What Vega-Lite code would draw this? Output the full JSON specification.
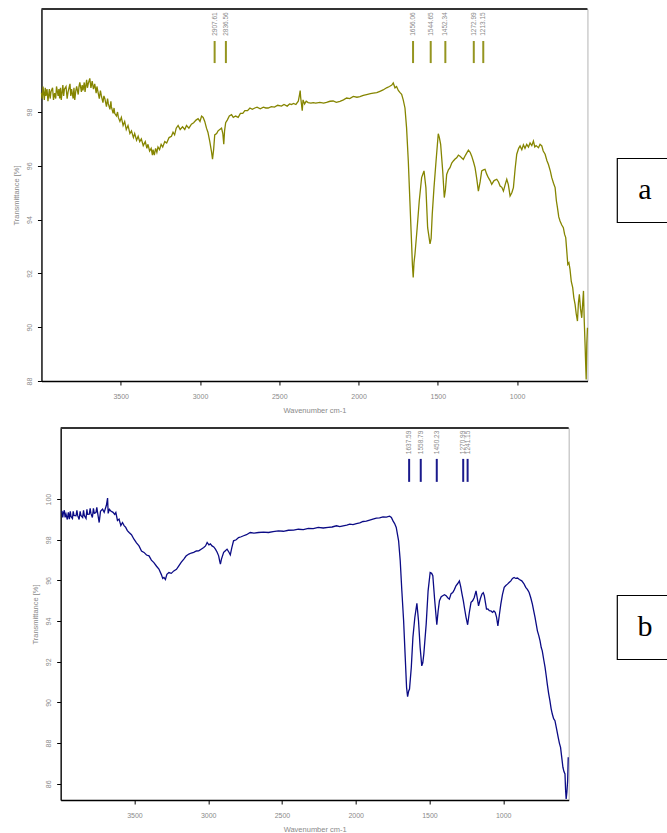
{
  "$schema": "https://vega.github.io/schema/vega-lite/v6.json",
  "background": "white",
  "padding": {"left": 11, "top": 7, "right": 0, "bottom": 0},
  "config": {
    "font": "Liberation Sans",
    "axis": {
      "grid": false,
      "domainColor": "#000000",
      "domainWidth": 1.3,
      "tickColor": "#000000",
      "tickSize": 4,
      "labelFontSize": 7,
      "labelColor": "#8a8a8a",
      "titleFontSize": 7.5,
      "titleFontWeight": "normal",
      "titleColor": "#8a8a8a"
    }
  },
  "datasets": {
    "specA": [
      {"w": 4000, "t": 98.72}, {"w": 3995, "t": 98.5}, {"w": 3990, "t": 98.95}, {"w": 3982, "t": 98.45}, {"w": 3976, "t": 98.9}, {"w": 3972, "t": 98.6}, {"w": 3965, "t": 98.85}, {"w": 3959, "t": 98.4},
      {"w": 3950, "t": 98.85}, {"w": 3945, "t": 98.5}, {"w": 3940, "t": 98.75}, {"w": 3930, "t": 98.9}, {"w": 3924, "t": 98.45}, {"w": 3917, "t": 98.7}, {"w": 3910, "t": 98.5}, {"w": 3905, "t": 98.95},
      {"w": 3895, "t": 98.6}, {"w": 3890, "t": 98.85}, {"w": 3885, "t": 98.5}, {"w": 3880, "t": 98.9}, {"w": 3875, "t": 98.45}, {"w": 3865, "t": 99.0}, {"w": 3860, "t": 98.6}, {"w": 3855, "t": 98.85},
      {"w": 3845, "t": 98.95}, {"w": 3838, "t": 98.5}, {"w": 3832, "t": 98.75}, {"w": 3820, "t": 99.05}, {"w": 3815, "t": 98.6}, {"w": 3810, "t": 98.85}, {"w": 3800, "t": 98.5}, {"w": 3795, "t": 98.9},
      {"w": 3790, "t": 98.45}, {"w": 3783, "t": 98.8}, {"w": 3778, "t": 98.95}, {"w": 3768, "t": 98.65}, {"w": 3763, "t": 98.95}, {"w": 3758, "t": 99.1}, {"w": 3748, "t": 98.75},
      {"w": 3743, "t": 99.0}, {"w": 3738, "t": 98.8}, {"w": 3730, "t": 99.1}, {"w": 3725, "t": 98.75}, {"w": 3715, "t": 99.2}, {"w": 3710, "t": 98.9}, {"w": 3705, "t": 99.05}, {"w": 3695, "t": 99.25},
      {"w": 3688, "t": 98.9}, {"w": 3680, "t": 99.15}, {"w": 3672, "t": 98.85}, {"w": 3664, "t": 99.05}, {"w": 3655, "t": 98.7}, {"w": 3650, "t": 98.95},
      {"w": 3645, "t": 98.8}, {"w": 3635, "t": 98.5}, {"w": 3628, "t": 98.8}, {"w": 3622, "t": 98.6}, {"w": 3612, "t": 98.35}, {"w": 3606, "t": 98.6}, {"w": 3600, "t": 98.5},
      {"w": 3590, "t": 98.2}, {"w": 3583, "t": 98.5}, {"w": 3578, "t": 98.3}, {"w": 3568, "t": 98.1}, {"w": 3562, "t": 98.4}, {"w": 3559, "t": 98.2}, {"w": 3548, "t": 97.95},
      {"w": 3542, "t": 98.15}, {"w": 3538, "t": 97.95}, {"w": 3527, "t": 97.85}, {"w": 3520, "t": 98.0}, {"w": 3515, "t": 97.8}, {"w": 3505, "t": 97.65}, {"w": 3496, "t": 97.8},
      {"w": 3485, "t": 97.5}, {"w": 3475, "t": 97.65}, {"w": 3465, "t": 97.35}, {"w": 3454, "t": 97.5}, {"w": 3442, "t": 97.2},
      {"w": 3432, "t": 97.3}, {"w": 3420, "t": 97.05}, {"w": 3412, "t": 97.2}, {"w": 3400, "t": 96.95}, {"w": 3390, "t": 97.1},
      {"w": 3380, "t": 96.9}, {"w": 3370, "t": 97.0}, {"w": 3358, "t": 96.75}, {"w": 3345, "t": 96.9}, {"w": 3335, "t": 96.65},
      {"w": 3328, "t": 96.8}, {"w": 3318, "t": 96.55}, {"w": 3308, "t": 96.65}, {"w": 3300, "t": 96.4}, {"w": 3296, "t": 96.6},
      {"w": 3288, "t": 96.4}, {"w": 3280, "t": 96.65}, {"w": 3272, "t": 96.5}, {"w": 3265, "t": 96.7}, {"w": 3255, "t": 96.6},
      {"w": 3245, "t": 96.8}, {"w": 3235, "t": 96.7}, {"w": 3222, "t": 96.9}, {"w": 3210, "t": 96.85}, {"w": 3195, "t": 97.05},
      {"w": 3180, "t": 97.1}, {"w": 3170, "t": 97.25}, {"w": 3160, "t": 97.15}, {"w": 3150, "t": 97.4}, {"w": 3138, "t": 97.5},
      {"w": 3125, "t": 97.35}, {"w": 3110, "t": 97.45}, {"w": 3096, "t": 97.35}, {"w": 3085, "t": 97.5}, {"w": 3070, "t": 97.4},
      {"w": 3054, "t": 97.55}, {"w": 3040, "t": 97.6}, {"w": 3025, "t": 97.7}, {"w": 3012, "t": 97.75}, {"w": 3000, "t": 97.65},
      {"w": 2990, "t": 97.85}, {"w": 2980, "t": 97.8}, {"w": 2970, "t": 97.65}, {"w": 2959, "t": 97.4}, {"w": 2950, "t": 97.25},
      {"w": 2938, "t": 96.9}, {"w": 2928, "t": 96.55}, {"w": 2921, "t": 96.25}, {"w": 2914, "t": 96.6}, {"w": 2907, "t": 97.15},
      {"w": 2895, "t": 97.2}, {"w": 2886, "t": 97.3}, {"w": 2875, "t": 97.35}, {"w": 2864, "t": 97.4}, {"w": 2856, "t": 97.2},
      {"w": 2850, "t": 96.8}, {"w": 2845, "t": 97.3}, {"w": 2838, "t": 97.6}, {"w": 2828, "t": 97.7}, {"w": 2815, "t": 97.85},
      {"w": 2801, "t": 97.9}, {"w": 2790, "t": 97.8}, {"w": 2775, "t": 97.85}, {"w": 2759, "t": 97.8}, {"w": 2745, "t": 97.95},
      {"w": 2730, "t": 97.95}, {"w": 2717, "t": 98.05}, {"w": 2700, "t": 98.05}, {"w": 2685, "t": 98.15}, {"w": 2670, "t": 98.1},
      {"w": 2654, "t": 98.15}, {"w": 2640, "t": 98.18}, {"w": 2620, "t": 98.12}, {"w": 2600, "t": 98.18}, {"w": 2585, "t": 98.15},
      {"w": 2570, "t": 98.15}, {"w": 2550, "t": 98.2}, {"w": 2530, "t": 98.18}, {"w": 2510, "t": 98.25}, {"w": 2486, "t": 98.22},
      {"w": 2470, "t": 98.28}, {"w": 2450, "t": 98.22}, {"w": 2435, "t": 98.3}, {"w": 2423, "t": 98.28}, {"w": 2410, "t": 98.32},
      {"w": 2395, "t": 98.28}, {"w": 2380, "t": 98.4}, {"w": 2372, "t": 98.65}, {"w": 2368, "t": 98.8}, {"w": 2365, "t": 98.55},
      {"w": 2360, "t": 98.3}, {"w": 2355, "t": 98.05}, {"w": 2350, "t": 98.45}, {"w": 2340, "t": 98.3}, {"w": 2330, "t": 98.4},
      {"w": 2318, "t": 98.35}, {"w": 2300, "t": 98.33}, {"w": 2286, "t": 98.35}, {"w": 2270, "t": 98.33}, {"w": 2244, "t": 98.36},
      {"w": 2220, "t": 98.33}, {"w": 2202, "t": 98.36}, {"w": 2180, "t": 98.4}, {"w": 2160, "t": 98.41}, {"w": 2140, "t": 98.36},
      {"w": 2117, "t": 98.4}, {"w": 2095, "t": 98.45}, {"w": 2075, "t": 98.52}, {"w": 2055, "t": 98.5}, {"w": 2033, "t": 98.58},
      {"w": 2010, "t": 98.55}, {"w": 1991, "t": 98.57}, {"w": 1970, "t": 98.62}, {"w": 1949, "t": 98.65}, {"w": 1925, "t": 98.68},
      {"w": 1907, "t": 98.7}, {"w": 1885, "t": 98.72}, {"w": 1865, "t": 98.77}, {"w": 1845, "t": 98.82}, {"w": 1823, "t": 98.9},
      {"w": 1805, "t": 98.95}, {"w": 1790, "t": 99.0}, {"w": 1781, "t": 99.08}, {"w": 1770, "t": 98.9}, {"w": 1760, "t": 98.95},
      {"w": 1749, "t": 98.8}, {"w": 1738, "t": 98.72}, {"w": 1728, "t": 98.66}, {"w": 1718, "t": 98.45}, {"w": 1707, "t": 98.15},
      {"w": 1697, "t": 97.42}, {"w": 1686, "t": 96.18}, {"w": 1676, "t": 94.69}, {"w": 1665, "t": 93.08}, {"w": 1660, "t": 92.3},
      {"w": 1655, "t": 91.85}, {"w": 1650, "t": 92.4}, {"w": 1644, "t": 92.71}, {"w": 1630, "t": 93.7}, {"w": 1617, "t": 94.69},
      {"w": 1602, "t": 95.56}, {"w": 1587, "t": 95.81}, {"w": 1575, "t": 95.19}, {"w": 1564, "t": 93.7}, {"w": 1549, "t": 93.1},
      {"w": 1542, "t": 93.3}, {"w": 1535, "t": 94.2}, {"w": 1524, "t": 95.19}, {"w": 1511, "t": 96.18}, {"w": 1497, "t": 97.19},
      {"w": 1490, "t": 97.05}, {"w": 1482, "t": 96.8}, {"w": 1469, "t": 95.81}, {"w": 1459, "t": 94.82}, {"w": 1452, "t": 95.1},
      {"w": 1444, "t": 95.68}, {"w": 1433, "t": 95.85}, {"w": 1423, "t": 95.93}, {"w": 1412, "t": 96.1}, {"w": 1402, "t": 96.18},
      {"w": 1391, "t": 96.25}, {"w": 1381, "t": 96.3}, {"w": 1370, "t": 96.4}, {"w": 1360, "t": 96.36}, {"w": 1350, "t": 96.3},
      {"w": 1339, "t": 96.24}, {"w": 1325, "t": 96.4}, {"w": 1307, "t": 96.58}, {"w": 1296, "t": 96.5}, {"w": 1286, "t": 96.36},
      {"w": 1275, "t": 96.15}, {"w": 1265, "t": 95.93}, {"w": 1255, "t": 95.55}, {"w": 1244, "t": 95.06}, {"w": 1233, "t": 95.4},
      {"w": 1223, "t": 95.81}, {"w": 1212, "t": 95.85}, {"w": 1202, "t": 95.87}, {"w": 1192, "t": 95.7}, {"w": 1181, "t": 95.56},
      {"w": 1170, "t": 95.45}, {"w": 1160, "t": 95.31}, {"w": 1145, "t": 95.45}, {"w": 1128, "t": 95.5}, {"w": 1117, "t": 95.4},
      {"w": 1107, "t": 95.25}, {"w": 1096, "t": 95.2}, {"w": 1086, "t": 95.06}, {"w": 1075, "t": 95.3}, {"w": 1065, "t": 95.5},
      {"w": 1055, "t": 95.3}, {"w": 1044, "t": 94.88}, {"w": 1033, "t": 95.0}, {"w": 1023, "t": 95.19}, {"w": 1012, "t": 95.9},
      {"w": 1002, "t": 96.43}, {"w": 990, "t": 96.65}, {"w": 981, "t": 96.74}, {"w": 970, "t": 96.6}, {"w": 960, "t": 96.78}, {"w": 950, "t": 96.65}, {"w": 939, "t": 96.8},
      {"w": 928, "t": 96.7}, {"w": 918, "t": 96.85}, {"w": 907, "t": 96.75}, {"w": 897, "t": 96.92}, {"w": 888, "t": 96.7}, {"w": 880, "t": 96.75}, {"w": 865, "t": 96.67}, {"w": 855, "t": 96.8},
      {"w": 844, "t": 96.74}, {"w": 835, "t": 96.55}, {"w": 823, "t": 96.43}, {"w": 812, "t": 96.2}, {"w": 802, "t": 96.05},
      {"w": 790, "t": 95.8}, {"w": 781, "t": 95.56}, {"w": 770, "t": 95.35}, {"w": 760, "t": 95.19}, {"w": 752, "t": 94.7},
      {"w": 745, "t": 94.44}, {"w": 737, "t": 94.1}, {"w": 729, "t": 93.95}, {"w": 718, "t": 93.8}, {"w": 708, "t": 93.7},
      {"w": 700, "t": 93.45}, {"w": 693, "t": 93.33}, {"w": 686, "t": 92.8}, {"w": 680, "t": 92.34}, {"w": 673, "t": 92.4},
      {"w": 666, "t": 92.15}, {"w": 658, "t": 91.7}, {"w": 649, "t": 91.47}, {"w": 642, "t": 91.1}, {"w": 634, "t": 90.85},
      {"w": 627, "t": 90.5}, {"w": 619, "t": 90.23}, {"w": 613, "t": 90.9}, {"w": 607, "t": 91.22}, {"w": 600, "t": 90.7},
      {"w": 592, "t": 90.35}, {"w": 586, "t": 90.9}, {"w": 581, "t": 91.35}, {"w": 576, "t": 90.2}, {"w": 571, "t": 89.36},
      {"w": 567, "t": 88.6}, {"w": 564, "t": 88.06}, {"w": 560, "t": 89.4}, {"w": 556, "t": 89.98}
    ],
    "specB": [
      {"w": 3991, "t": 99.42}, {"w": 3986, "t": 99.1}, {"w": 3982, "t": 99.3}, {"w": 3975, "t": 99.45}, {"w": 3970, "t": 99.1}, {"w": 3964, "t": 99.26}, {"w": 3955, "t": 99.0},
      {"w": 3948, "t": 99.35}, {"w": 3941, "t": 99.02}, {"w": 3935, "t": 99.4}, {"w": 3930, "t": 99.15}, {"w": 3920, "t": 99.05}, {"w": 3915, "t": 99.4}, {"w": 3910, "t": 99.2},
      {"w": 3896, "t": 99.18}, {"w": 3890, "t": 99.45}, {"w": 3885, "t": 99.2}, {"w": 3875, "t": 99.0}, {"w": 3868, "t": 99.4}, {"w": 3863, "t": 99.2}, {"w": 3851, "t": 99.1},
      {"w": 3845, "t": 99.45}, {"w": 3840, "t": 99.2}, {"w": 3828, "t": 99.05}, {"w": 3822, "t": 99.5}, {"w": 3818, "t": 99.25}, {"w": 3806, "t": 99.26}, {"w": 3800, "t": 99.55}, {"w": 3795, "t": 99.3},
      {"w": 3785, "t": 99.1}, {"w": 3778, "t": 99.55}, {"w": 3772, "t": 99.3}, {"w": 3761, "t": 99.34}, {"w": 3755, "t": 99.6}, {"w": 3750, "t": 99.35}, {"w": 3739, "t": 98.85},
      {"w": 3730, "t": 99.4}, {"w": 3716, "t": 99.51}, {"w": 3705, "t": 99.35}, {"w": 3690, "t": 99.7}, {"w": 3682, "t": 100.05},
      {"w": 3678, "t": 99.3}, {"w": 3670, "t": 99.5}, {"w": 3660, "t": 99.42}, {"w": 3645, "t": 99.35}, {"w": 3634, "t": 99.25},
      {"w": 3626, "t": 99.34}, {"w": 3615, "t": 98.95}, {"w": 3604, "t": 99.02}, {"w": 3592, "t": 98.7}, {"w": 3581, "t": 98.85},
      {"w": 3570, "t": 98.7}, {"w": 3559, "t": 98.61}, {"w": 3548, "t": 98.45}, {"w": 3536, "t": 98.36}, {"w": 3520, "t": 98.25},
      {"w": 3503, "t": 98.03}, {"w": 3486, "t": 97.85}, {"w": 3469, "t": 97.7}, {"w": 3452, "t": 97.45}, {"w": 3435, "t": 97.38},
      {"w": 3418, "t": 97.25}, {"w": 3401, "t": 97.21}, {"w": 3385, "t": 97.0}, {"w": 3368, "t": 96.88}, {"w": 3350, "t": 96.7},
      {"w": 3334, "t": 96.56}, {"w": 3318, "t": 96.3}, {"w": 3308, "t": 96.1}, {"w": 3300, "t": 96.15}, {"w": 3290, "t": 96.05},
      {"w": 3280, "t": 96.3}, {"w": 3266, "t": 96.39}, {"w": 3250, "t": 96.35}, {"w": 3233, "t": 96.47}, {"w": 3215, "t": 96.55},
      {"w": 3199, "t": 96.72}, {"w": 3182, "t": 96.9}, {"w": 3165, "t": 97.05}, {"w": 3150, "t": 97.2}, {"w": 3131, "t": 97.3},
      {"w": 3115, "t": 97.35}, {"w": 3098, "t": 97.38}, {"w": 3080, "t": 97.45}, {"w": 3064, "t": 97.46}, {"w": 3045, "t": 97.55},
      {"w": 3030, "t": 97.62}, {"w": 3018, "t": 97.7}, {"w": 3007, "t": 97.87}, {"w": 2995, "t": 97.75}, {"w": 2985, "t": 97.8},
      {"w": 2974, "t": 97.7}, {"w": 2962, "t": 97.65}, {"w": 2951, "t": 97.54}, {"w": 2940, "t": 97.4}, {"w": 2929, "t": 97.21},
      {"w": 2922, "t": 96.95}, {"w": 2917, "t": 96.8}, {"w": 2910, "t": 97.05}, {"w": 2895, "t": 97.38}, {"w": 2885, "t": 97.45},
      {"w": 2872, "t": 97.54}, {"w": 2860, "t": 97.4}, {"w": 2850, "t": 97.26}, {"w": 2840, "t": 97.6}, {"w": 2828, "t": 97.95},
      {"w": 2810, "t": 98.0}, {"w": 2794, "t": 98.11}, {"w": 2776, "t": 98.15}, {"w": 2760, "t": 98.2}, {"w": 2740, "t": 98.25},
      {"w": 2715, "t": 98.36}, {"w": 2690, "t": 98.33}, {"w": 2659, "t": 98.36}, {"w": 2625, "t": 98.38}, {"w": 2591, "t": 98.36},
      {"w": 2560, "t": 98.4}, {"w": 2524, "t": 98.44}, {"w": 2490, "t": 98.42}, {"w": 2456, "t": 98.47}, {"w": 2420, "t": 98.48},
      {"w": 2389, "t": 98.52}, {"w": 2355, "t": 98.5}, {"w": 2321, "t": 98.56}, {"w": 2288, "t": 98.55}, {"w": 2254, "t": 98.61},
      {"w": 2220, "t": 98.58}, {"w": 2186, "t": 98.61}, {"w": 2160, "t": 98.63}, {"w": 2130, "t": 98.69}, {"w": 2108, "t": 98.65},
      {"w": 2085, "t": 98.69}, {"w": 2060, "t": 98.72}, {"w": 2040, "t": 98.77}, {"w": 2018, "t": 98.75}, {"w": 1995, "t": 98.8},
      {"w": 1972, "t": 98.83}, {"w": 1950, "t": 98.9}, {"w": 1928, "t": 98.92}, {"w": 1905, "t": 98.97}, {"w": 1883, "t": 99.02},
      {"w": 1860, "t": 99.07}, {"w": 1838, "t": 99.08}, {"w": 1815, "t": 99.13}, {"w": 1792, "t": 99.12}, {"w": 1770, "t": 99.16},
      {"w": 1758, "t": 99.1}, {"w": 1747, "t": 98.93}, {"w": 1736, "t": 98.8}, {"w": 1725, "t": 98.61}, {"w": 1709, "t": 97.95},
      {"w": 1698, "t": 96.97}, {"w": 1687, "t": 95.49}, {"w": 1675, "t": 94.02}, {"w": 1664, "t": 92.21}, {"w": 1655, "t": 90.74},
      {"w": 1648, "t": 90.28}, {"w": 1641, "t": 90.55}, {"w": 1635, "t": 90.66}, {"w": 1623, "t": 91.72}, {"w": 1612, "t": 93.2},
      {"w": 1599, "t": 94.18}, {"w": 1585, "t": 94.87}, {"w": 1574, "t": 94.02}, {"w": 1563, "t": 92.71}, {"w": 1552, "t": 91.8},
      {"w": 1545, "t": 91.95}, {"w": 1538, "t": 92.38}, {"w": 1522, "t": 93.85}, {"w": 1509, "t": 95.49}, {"w": 1495, "t": 96.39},
      {"w": 1485, "t": 96.35}, {"w": 1477, "t": 96.23}, {"w": 1464, "t": 95.0}, {"w": 1450, "t": 93.82}, {"w": 1441, "t": 94.5},
      {"w": 1432, "t": 95.0}, {"w": 1420, "t": 95.2}, {"w": 1410, "t": 95.25}, {"w": 1398, "t": 95.3}, {"w": 1387, "t": 95.25},
      {"w": 1376, "t": 95.15}, {"w": 1365, "t": 95.08}, {"w": 1353, "t": 95.35}, {"w": 1342, "t": 95.41}, {"w": 1331, "t": 95.55},
      {"w": 1320, "t": 95.74}, {"w": 1308, "t": 95.85}, {"w": 1297, "t": 95.98}, {"w": 1288, "t": 95.7}, {"w": 1279, "t": 95.33},
      {"w": 1270, "t": 95.0}, {"w": 1263, "t": 94.67}, {"w": 1252, "t": 94.2}, {"w": 1241, "t": 93.82}, {"w": 1230, "t": 94.4},
      {"w": 1218, "t": 94.92}, {"w": 1207, "t": 95.0}, {"w": 1196, "t": 95.16}, {"w": 1184, "t": 95.49}, {"w": 1175, "t": 95.1},
      {"w": 1167, "t": 94.75}, {"w": 1155, "t": 95.1}, {"w": 1144, "t": 95.33}, {"w": 1135, "t": 95.4}, {"w": 1128, "t": 95.25},
      {"w": 1120, "t": 94.9}, {"w": 1113, "t": 94.59}, {"w": 1104, "t": 94.6}, {"w": 1094, "t": 94.51}, {"w": 1083, "t": 94.5},
      {"w": 1072, "t": 94.43}, {"w": 1063, "t": 94.5}, {"w": 1054, "t": 94.43}, {"w": 1045, "t": 94.2}, {"w": 1036, "t": 93.77},
      {"w": 1026, "t": 94.3}, {"w": 1016, "t": 94.84}, {"w": 1005, "t": 95.3}, {"w": 993, "t": 95.66}, {"w": 982, "t": 95.75},
      {"w": 971, "t": 95.82}, {"w": 960, "t": 95.9}, {"w": 948, "t": 95.98}, {"w": 937, "t": 96.1}, {"w": 926, "t": 96.15},
      {"w": 915, "t": 96.1}, {"w": 903, "t": 96.12}, {"w": 890, "t": 96.05}, {"w": 874, "t": 95.98}, {"w": 860, "t": 95.85},
      {"w": 847, "t": 95.66}, {"w": 835, "t": 95.55}, {"w": 824, "t": 95.41}, {"w": 813, "t": 95.15}, {"w": 802, "t": 94.84},
      {"w": 793, "t": 94.5}, {"w": 784, "t": 94.18}, {"w": 776, "t": 93.85}, {"w": 768, "t": 93.52}, {"w": 759, "t": 93.3},
      {"w": 750, "t": 93.03}, {"w": 742, "t": 92.7}, {"w": 735, "t": 92.54}, {"w": 725, "t": 92.1}, {"w": 716, "t": 91.72},
      {"w": 708, "t": 91.3}, {"w": 701, "t": 90.9}, {"w": 692, "t": 90.45}, {"w": 683, "t": 90.08}, {"w": 675, "t": 89.7},
      {"w": 667, "t": 89.43}, {"w": 658, "t": 89.2}, {"w": 649, "t": 89.1}, {"w": 638, "t": 88.7}, {"w": 627, "t": 88.28},
      {"w": 619, "t": 88.0}, {"w": 611, "t": 87.79}, {"w": 603, "t": 87.3}, {"w": 595, "t": 86.81}, {"w": 588, "t": 86.6},
      {"w": 581, "t": 86.48}, {"w": 577, "t": 85.7}, {"w": 573, "t": 85.25}, {"w": 568, "t": 85.6}, {"w": 563, "t": 86.15},
      {"w": 559, "t": 87.3}
    ],
    "peaksA": [
      {"w": 2907.61, "label": "2907.61"},
      {"w": 2836.56, "label": "2836.56"},
      {"w": 1656.06, "label": "1656.06"},
      {"w": 1544.65, "label": "1544.65"},
      {"w": 1452.34, "label": "1452.34"},
      {"w": 1272.99, "label": "1272.99"},
      {"w": 1213.15, "label": "1213.15"}
    ],
    "peaksB": [
      {"w": 1637.59, "label": "1637.59"},
      {"w": 1558.79, "label": "1558.79"},
      {"w": 1450.23, "label": "1450.23"},
      {"w": 1270.99, "label": "1270.99"},
      {"w": 1241.15, "label": "1241.15"}
    ]
  },
  "center": true,
  "spacing": 25,
  "hconcat": [
    {
      "center": true,
      "spacing": 12,
      "vconcat": [
        {
          "width": 546,
          "height": 372,
          "view": {"stroke": "#b4b4b4", "strokeWidth": 1},
          "layer": [
            {
              "data": {"name": "specA"},
              "mark": {"type": "line", "color": "#858500", "strokeWidth": 1.3},
              "encoding": {
                "x": {
                  "field": "w", "type": "quantitative",
                  "scale": {"domain": [556, 4000], "reverse": true, "nice": false, "zero": false},
                  "axis": {"values": [3500, 3000, 2500, 2000, 1500, 1000], "format": "d", "title": "Wavenumber cm-1", "labelPadding": 7, "titlePadding": 7}
                },
                "y": {
                  "field": "t", "type": "quantitative",
                  "scale": {"domain": [88, 101.83], "nice": false, "zero": false},
                  "axis": {"values": [88, 90, 92, 94, 96, 98], "format": "d", "title": "Transmittance [%]", "labelAngle": 270, "labelAlign": "center", "labelBaseline": "bottom", "labelPadding": 5, "titlePadding": 5}
                }
              }
            },
            {
              "data": {"name": "peaksA"},
              "mark": {"type": "rule", "color": "#959520", "strokeWidth": 2},
              "encoding": {
                "x": {"field": "w", "type": "quantitative"},
                "y": {"datum": 99.82},
                "y2": {"datum": 100.64}
              }
            },
            {
              "data": {"name": "peaksA"},
              "mark": {"type": "text", "angle": 270, "fontSize": 6.5, "color": "#8a8a8a", "align": "center", "baseline": "middle"},
              "encoding": {
                "x": {"field": "w", "type": "quantitative"},
                "y": {"datum": 101.27},
                "text": {"field": "label"}
              }
            },
            {
              "data": {"values": [{}]},
              "mark": {"type": "rule", "color": "#333333", "strokeWidth": 2},
              "encoding": {"y": {"datum": 101.83}}
            }
          ]
        },
        {
          "width": 508,
          "height": 372,
          "view": {"stroke": "#b4b4b4", "strokeWidth": 1},
          "layer": [
            {
              "data": {"name": "specB"},
              "mark": {"type": "line", "color": "#0b0b85", "strokeWidth": 1.3},
              "encoding": {
                "x": {
                  "field": "w", "type": "quantitative",
                  "scale": {"domain": [556, 4000], "reverse": true, "nice": false, "zero": false},
                  "axis": {"values": [3500, 3000, 2500, 2000, 1500, 1000], "format": "d", "title": "Wavenumber cm-1", "labelPadding": 7, "titlePadding": 7}
                },
                "y": {
                  "field": "t", "type": "quantitative",
                  "scale": {"domain": [85.2, 103.5], "nice": false, "zero": false},
                  "axis": {"values": [86, 88, 90, 92, 94, 96, 98, 100], "format": "d", "title": "Transmittance [%]", "labelAngle": 270, "labelAlign": "center", "labelBaseline": "bottom", "labelPadding": 5, "titlePadding": 5}
                }
              }
            },
            {
              "data": {"name": "peaksB"},
              "mark": {"type": "rule", "color": "#1a1a8c", "strokeWidth": 2},
              "encoding": {
                "x": {"field": "w", "type": "quantitative"},
                "y": {"datum": 100.85},
                "y2": {"datum": 101.98}
              }
            },
            {
              "data": {"name": "peaksB"},
              "mark": {"type": "text", "angle": 270, "fontSize": 6.5, "color": "#8a8a8a", "align": "center", "baseline": "middle"},
              "encoding": {
                "x": {"field": "w", "type": "quantitative"},
                "y": {"datum": 102.79},
                "text": {"field": "label"}
              }
            },
            {
              "data": {"values": [{}]},
              "mark": {"type": "rule", "color": "#333333", "strokeWidth": 2},
              "encoding": {"y": {"datum": 103.5}}
            }
          ]
        }
      ]
    },
    {
      "spacing": 371,
      "title": {"text": " ", "orient": "bottom", "fontSize": 20, "offset": 4},
      "vconcat": [
        {
          "width": 56,
          "height": 64,
          "view": {"stroke": "#000000", "strokeWidth": 1.2},
          "data": {"values": [{"panel": "a"}]},
          "mark": {"type": "text", "font": "Liberation Serif", "fontSize": 30, "color": "#000000", "align": "center", "baseline": "middle"},
          "encoding": {"text": {"field": "panel"}}
        },
        {
          "width": 56,
          "height": 64,
          "view": {"stroke": "#000000", "strokeWidth": 1.2},
          "data": {"values": [{"panel": "b"}]},
          "mark": {"type": "text", "font": "Liberation Serif", "fontSize": 30, "color": "#000000", "align": "center", "baseline": "middle"},
          "encoding": {"text": {"field": "panel"}}
        }
      ]
    }
  ]
}
